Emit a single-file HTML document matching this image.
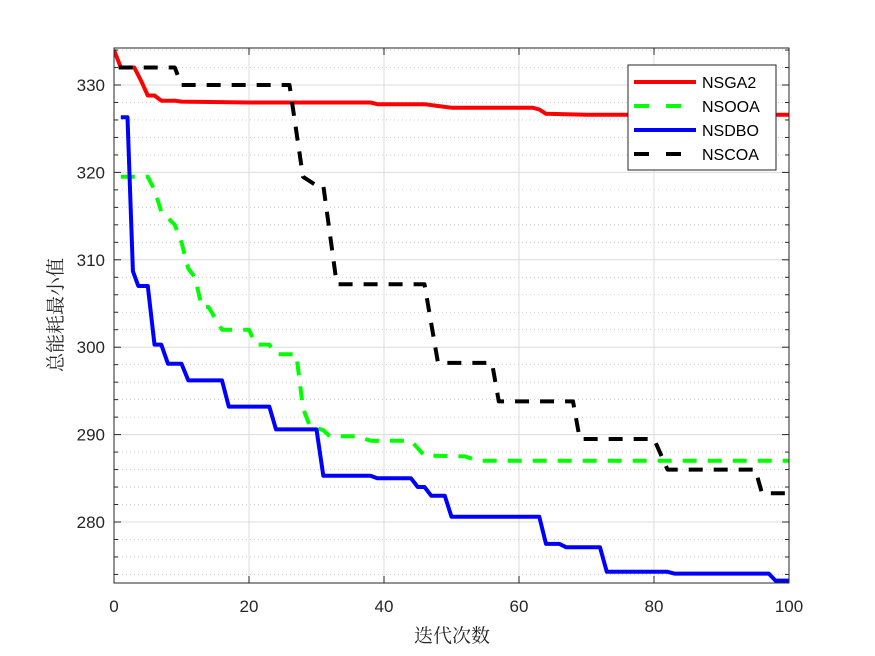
<!DOCTYPE html>
<html><head><meta charset="utf-8"><style>body{margin:0;background:#fff}svg{display:block}</style></head>
<body>
<svg id="s" width="875" height="656" xmlns="http://www.w3.org/2000/svg" font-family="Liberation Sans, sans-serif"></svg>
<script>
const L=114,R=789,T=48,B=583;
const X=v=>L+v*6.75, Y=v=>85+(330-v)*8.74;
let h='<rect width="875" height="656" fill="#fff"/>';
for(let v=274;v<=334;v+=2){if(v%10==0)continue;h+=`<line x1="${L}" x2="${R}" y1="${Y(v)}" y2="${Y(v)}" stroke="#b0b0b0" stroke-width="0.6" stroke-dasharray="1,3"/>`;}
for(let v=280;v<=330;v+=10)h+=`<line x1="${L}" x2="${R}" y1="${Y(v)}" y2="${Y(v)}" stroke="#dcdcdc" stroke-width="1"/>`;
for(let v=20;v<100;v+=20)h+=`<line x1="${X(v)}" x2="${X(v)}" y1="${T}" y2="${B}" stroke="#dcdcdc" stroke-width="1"/>`;
function P(d,c,dash){return `<polyline fill="none" stroke="${c}" stroke-width="4" ${dash?'stroke-dasharray="14,11"':''} stroke-linejoin="round" points="${d.map(p=>X(p[0]).toFixed(1)+','+Y(p[1]).toFixed(1)).join(' ')}"/>`;}
const red=[[0,334],[1,332],[3,332],[4,330.5],[5,328.8],[6,328.8],[7,328.2],[9,328.2],[10,328.1],[20,328],[38,328],[39,327.8],[46,327.8],[48,327.6],[50,327.4],[62,327.4],[63,327.2],[64,326.7],[70,326.6],[100,326.6]];
const blk=[[0.7,332],[9,332],[10,330],[26,330],[28,319.5],[30,318.5],[31,318.5],[33,307.2],[46,307.2],[48,298.2],[56,298.2],[57,293.8],[68,293.8],[69,289.5],[80,289.5],[82,286],[95,286],[96,283.3],[100,283.3]];
const grn=[[1,319.5],[5,319.5],[6,318],[7,315.5],[9,314],[10,312],[11,309],[12,308],[13,304.6],[14,304.6],[16,302],[20,302],[21,300.3],[23,300.3],[24,299.2],[27,299.2],[28,293],[29,291],[31,290.5],[32,289.8],[36,289.8],[38,289.3],[44,289.3],[46,287.6],[52,287.5],[54,287],[100,287]];
const blu=[[1,326.3],[2,326.3],[2.8,308.7],[3.6,307],[5,307],[6,300.3],[7,300.3],[8,298.1],[10,298.1],[11,296.2],[16,296.2],[17,293.2],[23,293.2],[24,290.6],[30,290.6],[31,285.3],[38,285.3],[39,285],[44,285],[45,284],[46,284],[47,283],[49,283],[50,280.6],[63,280.6],[64,277.5],[66,277.5],[67,277.1],[72,277.1],[73,274.3],[82,274.3],[83,274.1],[97,274.1],[98,273.3],[100,273.3]];
h+='<svg x="'+L+'" y="'+T+'" width="'+(R-L)+'" height="'+(B-T)+'" viewBox="'+L+' '+T+' '+(R-L)+' '+(B-T)+'" overflow="hidden">';
h+=P(red,'#f00')+P(grn,'#0f0',1)+P(blu,'#00f')+P(blk,'#000',1)+'</svg>';
h+=`<rect x="${L}" y="${T}" width="${R-L}" height="${B-T}" fill="none" stroke="#262626" stroke-width="1"/>`;
for(let v=0;v<=100;v+=20){let x=X(v);h+=`<line x1="${x}" x2="${x}" y1="${B}" y2="${B-7}" stroke="#262626"/><line x1="${x}" x2="${x}" y1="${T}" y2="${T+7}" stroke="#262626"/><text x="${x}" y="${612}" font-size="17" text-anchor="middle" fill="#262626">${v}</text>`;}
for(let v=274;v<=334;v+=2){let y=Y(v),l=v%10==0?7:4;h+=`<line x1="${L}" x2="${L+l}" y1="${y}" y2="${y}" stroke="#262626"/><line x1="${R}" x2="${R-l}" y1="${y}" y2="${y}" stroke="#262626"/>`;if(v%10==0)h+=`<text x="105" y="${y+6}" font-size="17" text-anchor="end" fill="#262626">${v}</text>`;}
h+=`<text x="452" y="642" font-size="19" text-anchor="middle" fill="#262626" font-family="Liberation Serif, Noto Serif CJK SC, serif">迭代次数</text>`;
h+=`<text transform="translate(62,315) rotate(-90)" font-size="19" text-anchor="middle" fill="#262626" font-family="Liberation Serif, Noto Serif CJK SC, serif">总能耗最小值</text>`;
h+=`<rect x="628" y="65" width="148" height="105" fill="#fff" stroke="#262626"/>`;
const lg=[['NSGA2','#f00',0],['NSOOA','#0f0',1],['NSDBO','#00f',0],['NSCOA','#000',1]];
lg.forEach((e,i)=>{let y=82+i*24;h+=`<line x1="634" x2="696" y1="${y}" y2="${y}" stroke="${e[1]}" stroke-width="4" ${e[2]?'stroke-dasharray="15,17"':''}/><text x="702" y="${y+6}" font-size="16" fill="#000">${e[0]}</text>`;});
document.getElementById('s').innerHTML=h;
</script>
</body></html>
